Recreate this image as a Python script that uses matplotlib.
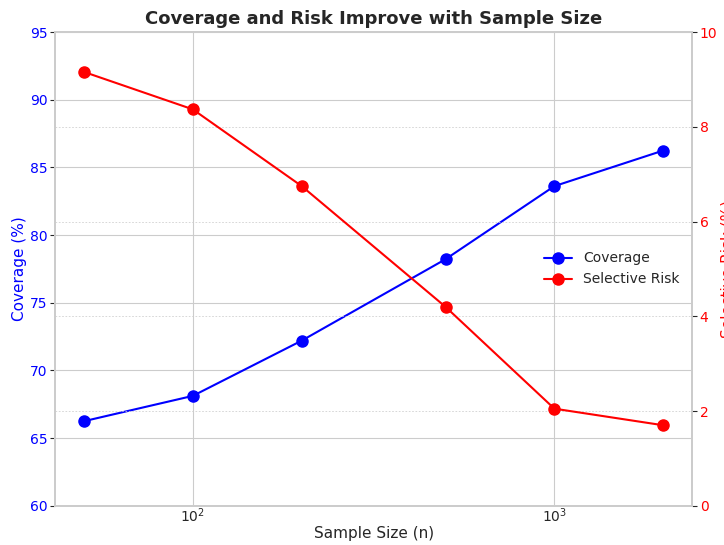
import matplotlib
matplotlib.use("Agg")
from matplotlib import pyplot as plt
import seaborn as sns

sample_sizes = [50, 100, 200, 500, 1000, 2000]
coverage = [66.25, 68.12, 72.2, 78.22, 83.62, 86.25]
selective_risk = [9.16, 8.37, 6.75, 4.2, 2.05, 1.7]

sns.set_style("whitegrid")

fig, ax1 = plt.subplots(figsize=(7.24, 5.45), dpi=100)
fig.subplots_adjust(left=0.076, right=0.956, top=0.941, bottom=0.072)

l1, = ax1.plot(sample_sizes, coverage, color="blue", marker="o", markersize=8,
               linewidth=1.5, label="Coverage")
ax1.set_xscale("log")
ax1.set_ylim(60, 95)
ax1.set_xlabel("Sample Size (n)", fontsize=11, labelpad=1)
ax1.set_ylabel("Coverage (%)", color="blue", fontsize=11, labelpad=2)
ax1.tick_params(axis="y", labelcolor="blue", pad=2)
ax1.tick_params(axis="x", which="both", pad=-3)

ax2 = ax1.twinx()
l2, = ax2.plot(sample_sizes, selective_risk, color="red", marker="o", markersize=8,
               linewidth=1.5, label="Selective Risk")
ax2.set_ylim(0, 10)
ax2.set_ylabel("Selective Risk (%)", color="red", fontsize=11, labelpad=2)
ax2.tick_params(axis="y", labelcolor="red", pad=2)
ax2.grid(True, linestyle="--", linewidth=0.6, dashes=(2, 2), alpha=0.9)

for ax in (ax1, ax2):
    for sp in ax.spines.values():
        sp.set_linewidth(1.3)

ax1.set_title("Coverage and Risk Improve with Sample Size", fontsize=13,
              fontweight="bold")
ax2.legend([l1, l2], ["Coverage", "Selective Risk"], loc="center right",
           frameon=False)

plt.savefig("out.png")
